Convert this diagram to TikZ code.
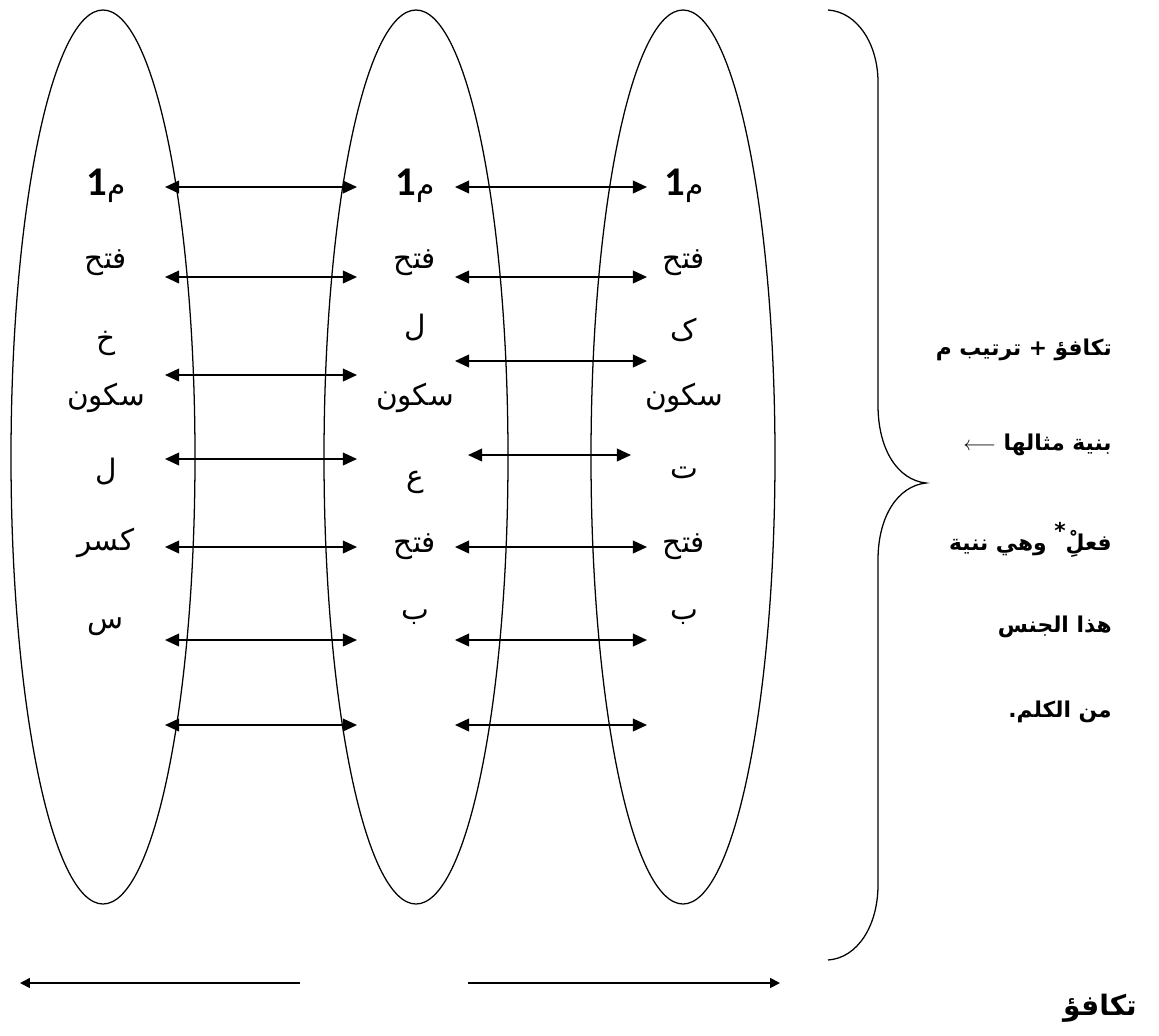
\documentclass[tikz,border=0pt]{standalone}
\usepackage{fontspec}
\usepackage{tikz}
\usetikzlibrary{arrows.meta}
\TeXXeTstate=1
\newfontfamily\arabicfont[Script=Arabic]{DejaVu Sans}
\newfontfamily\digitfont{Carlito}
\newcommand{\ar}[1]{{\arabicfont\beginR #1\endR}}

\begin{document}
\begin{tikzpicture}[x=0.025cm,y=-0.025cm,
          oval/.style={line width=0.9pt},
          link/.style={{Triangle[length=10pt,width=9pt]}-{Triangle[length=10pt,width=9pt]},line width=1.3pt},
          wide/.style={-{Triangle[length=7pt,width=7pt]},line width=1.2pt},
          lbl/.style={font=\fontsize{21}{25}\selectfont,inner sep=0pt},
          note/.style={font=\fontsize{15.5}{20}\selectfont\bfseries,anchor=east,inner sep=0pt},
        ]
        \useasboundingbox (0,0) rectangle (1159,1035);
        \draw[oval] (103,457) ellipse [x radius=92,y radius=447];
        \draw[oval] (416,457) ellipse [x radius=92,y radius=447];
        \draw[oval] (683,457) ellipse [x radius=92,y radius=447];
        \foreach \c/\x in {a/106,b/415,c/684}{
          \node[lbl] (\c1) at (\x,186){\ar{م{\digitfont\bfseries\fontsize{29}{30}\selectfont 1}}};
          \node[lbl] (\c2) at (\x,263){\ar{فتح}};
          \node[lbl] (\c4) at (\x,398){\ar{سكون}};
        }
        \node[lbl] (a3) at (106,343){\ar{خ}};
        \node[lbl] (a5) at (106,472){\ar{ل}};
        \node[lbl] (a6) at (106,543){\ar{كسر}};
        \node[lbl] (a7) at (106,627){\ar{س}};
        \node[lbl] (b3) at (415,328){\ar{ل}};
        \node[lbl] (b5) at (415,482){\ar{ع}};
        \node[lbl] (b6) at (415,547){\ar{فتح}};
        \node[lbl] (b7) at (415,617){\ar{ب}};
        \node[lbl] (c3) at (684,330){\ar{ک}};
        \node[lbl] (c5) at (684,473){\ar{ت}};
        \node[lbl] (c6) at (684,547){\ar{فتح}};
        \node[lbl] (c7) at (684,617){\ar{ب}};
        \foreach \y [count=\i] in {187,277,375,459,547,640,725}{
          \coordinate (la\i) at (165,\y);
          \coordinate (lb\i) at (357,\y);
          \draw[link] (la\i) -- (lb\i);
        }
        \foreach \xa/\xb/\y [count=\i] in {455/647/187,455/647/277,455/647/361,468/631/455,
                                           455/647/547,455/647/640,455/647/725}{
          \coordinate (ra\i) at (\xa,\y);
          \coordinate (rb\i) at (\xb,\y);
          \draw[link] (ra\i) -- (rb\i);
        }
        \coordinate (top) at (828,10);
        \coordinate (tip) at (926,483);
        \coordinate (bot) at (828,960);
        \draw[oval] (top) .. controls (858,12) and (878,45) .. (878,82)
                    -- (878,405) .. controls (878,450) and (898,480) .. (tip)
                    .. controls (898,486) and (878,516) .. (878,560)
                    -- (878,885) .. controls (878,925) and (858,958) .. (bot);
        \node[note] (n1) at (1112,350){\ar{تكافؤ + ترتيب م}};
        \node[note] (n2) at (1112,445){\ar{بنية مثالها $\longleftarrow$}};
        \node[note] (n3) at (1112,540){\ar{فعلِْ\raisebox{1ex}{*} وهي ننية}};
        \node[note] (n4) at (1112,627){\ar{هذا الجنس}};
        \node[note] (n5) at (1112,712){\ar{من الكلم.}};
        \coordinate (ul) at (300,983);
        \coordinate (ul2) at (20,983);
        \coordinate (ur) at (468,983);
        \coordinate (ur2) at (780,983);
        \draw[wide] (ul) -- (ul2);
        \draw[wide] (ur) -- (ur2);
        \node[note,anchor=center,font=\fontsize{20}{24}\selectfont\bfseries] (eq) at (1100,1008){\ar{تكافؤ}};
      \end{tikzpicture}
\end{document}
